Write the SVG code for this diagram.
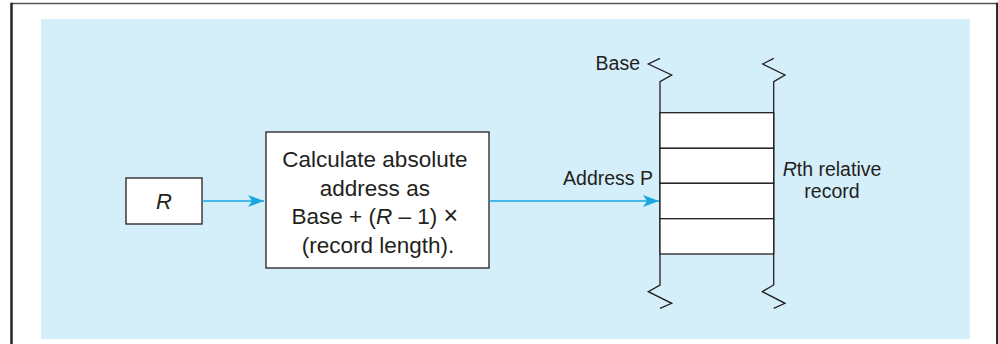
<svg xmlns="http://www.w3.org/2000/svg" width="998" height="344" viewBox="0 0 998 344">
<style>
.t{font-family:"Liberation Sans",Arial,sans-serif;fill:#231f20}
.box{fill:#fff;stroke:#231f20;stroke-width:1.3}
.blk{fill:none;stroke:#231f20;stroke-width:1.3}
.conn{fill:none;stroke:#1ba6e0;stroke-width:1.4}
</style>
<defs>
<marker id="ah" viewBox="0 0 16 12" refX="16" refY="6" markerWidth="16" markerHeight="12" markerUnits="userSpaceOnUse" orient="auto">
<path d="M0,0 L16,6 L0,12 L4,6 Z" fill="#1ba6e0"/>
</marker>
</defs>
<rect x="0" y="0" width="998" height="344" fill="#fff"/>
<g id="frame">
<line x1="11" y1="3.5" x2="998" y2="3.5" stroke="#555" stroke-width="1.5"/>
<line x1="11.5" y1="2.8" x2="11.5" y2="344" stroke="#2b2b2b" stroke-width="2.6"/>
<line x1="997" y1="2.8" x2="997" y2="344" stroke="#2b2b2b" stroke-width="2"/>
</g>
<rect id="panel" x="41" y="19" width="929" height="320" fill="#d4eefa"/>
<g id="node-r">
<rect class="box" x="126" y="178" width="76" height="46"/>
<text class="t" x="164" y="209" font-size="22" font-style="italic" text-anchor="middle">R</text>
</g>
<g id="node-calc">
<rect class="box" x="266" y="132" width="223" height="136"/>
<text class="t" font-size="22.5" text-anchor="middle">
<tspan x="378" y="167">Calculate absolute</tspan>
<tspan x="378" y="195.5">address as</tspan>
<tspan x="378" y="224">Base + (<tspan font-style="italic">R</tspan> – 1) <tspan font-size="25">×</tspan></tspan>
<tspan x="378" y="252.5">(record length).</tspan>
</text>
</g>
<g id="node-records">
<polyline class="blk" points="660,58.3 648.3,64 671.7,75 660,81.7 660,285 648.3,291.7 671.7,303.3 660,308.3"/>
<polyline class="blk" points="773.7,58.3 762.7,64 785,75 773.7,81.7 773.7,285 762.3,291.7 785,303.3 773.7,308.3"/>
<rect class="box" x="660" y="112.7" width="113.7" height="35.6"/>
<rect class="box" x="660" y="148.3" width="113.7" height="35"/>
<rect class="box" x="660" y="183.3" width="113.7" height="35.4"/>
<rect class="box" x="660" y="218.7" width="113.7" height="35.3"/>
<text class="t" x="640" y="70" font-size="19.5" text-anchor="end">Base</text>
<text class="t" font-size="19.5" text-anchor="middle"><tspan x="832" y="176"><tspan font-style="italic">R</tspan>th relative</tspan><tspan x="832" y="198">record</tspan></text>
</g>
<g id="connectors">
<line class="conn" x1="202" y1="201" x2="264" y2="201" marker-end="url(#ah)"/>
<line class="conn" x1="489" y1="201" x2="659" y2="201" marker-end="url(#ah)"/>
<text class="t" x="653" y="185" font-size="19.5" text-anchor="end">Address P</text>
</g>
</svg>
